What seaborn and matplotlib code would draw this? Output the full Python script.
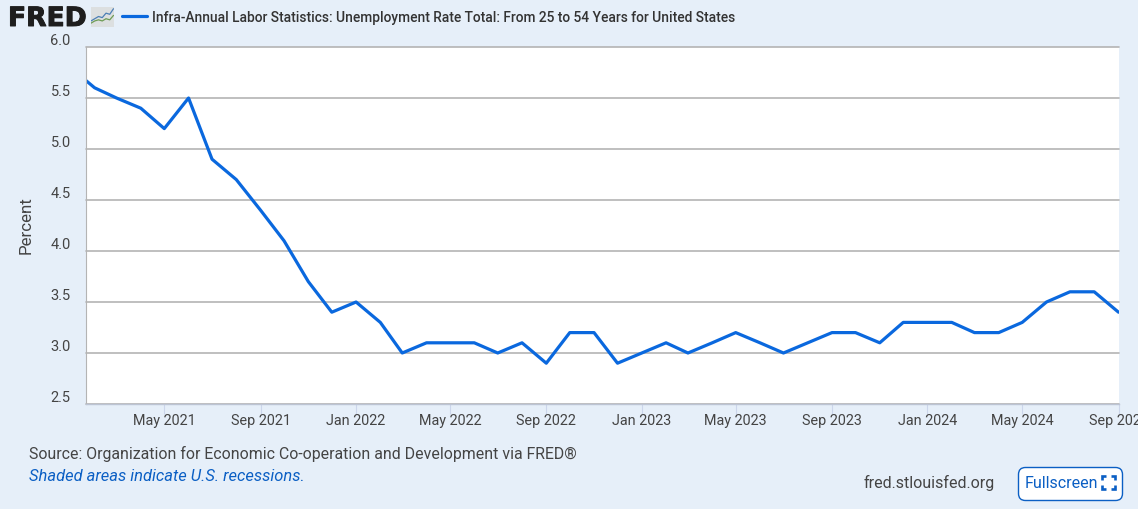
import pandas as pd
import matplotlib
matplotlib.use("Agg")
import matplotlib.pyplot as plt
import matplotlib.dates as mdates
import matplotlib.patheffects as pe
import seaborn as sns
from matplotlib.patches import FancyBboxPatch

months = pd.date_range("2021-01-01", "2024-09-01", freq="MS")
rate = [
    5.8, 5.6, 5.5, 5.4, 5.2, 5.5, 4.9, 4.7, 4.4, 4.1, 3.7, 3.4,
    3.5, 3.3, 3.0, 3.1, 3.1, 3.1, 3.0, 3.1, 2.9, 3.2, 3.2, 2.9,
    3.0, 3.1, 3.0, 3.1, 3.2, 3.1, 3.0, 3.1, 3.2, 3.2, 3.1, 3.3,
    3.3, 3.3, 3.2, 3.2, 3.3, 3.5, 3.6, 3.6, 3.4,
]
y_ticks = [2.5, 3.0, 3.5, 4.0, 4.5, 5.0, 5.5, 6.0]
x_ticks = pd.date_range("2021-05-01", "2024-09-01", freq="4MS")
series_name = "Infra-Annual Labor Statistics: Unemployment Rate Total: From 25 to 54 Years for United States"
icon_blue = [3, 5, 7, 6, 10, 9, 14]
icon_green = [1, 3, 4, 3, 5, 4, 8]

W, H = 1138, 510
BG = "#E6EFF9"
TEXT = "#444444"
BLUE = "#0B5FC4"
LINE = "#0A68DE"

sns.set_theme(style="white")
plt.rcParams["font.family"] = ["Roboto", "DejaVu Sans"]

fig = plt.figure(figsize=(W / 100, H / 100), dpi=100, facecolor=BG)
ax = fig.add_axes([86 / W, (H - 405) / H, 1032.5 / W, 357 / H], facecolor="white")

df = pd.DataFrame({"month": months, "rate": rate})
sns.lineplot(data=df, x="month", y="rate", color=LINE, linewidth=2.3,
             label=series_name, ax=ax)

ax.set_xlim(pd.Timestamp("2021-01-21"), pd.Timestamp("2024-09-01"))
ax.set_ylim(2.5, 6.0)

# grid sits on the y ticks, labels float just above each line
ax.set_yticks(y_ticks)
ax.set_yticklabels([f"{v:.1f}" for v in y_ticks], va="bottom")
ax.yaxis.grid(True, color="#B4B4B4", linewidth=1.2, clip_on=False)
ax.set_axisbelow(True)
ax.tick_params(axis="y", length=0, pad=11, labelsize=10.5, labelcolor=TEXT)

ax.set_xticks(x_ticks)
ax.xaxis.set_major_formatter(mdates.DateFormatter("%b %Y"))
ax.tick_params(axis="x", length=7, width=0.8, color="#CCD6EB", pad=-0.5,
               labelsize=10.4, labelcolor=TEXT, bottom=True)
for lab in ax.get_xticklabels():
    lab.set_clip_on(False)

ax.set_xlabel("")
ax.set_ylabel("Percent", fontsize=12.2, color=TEXT)
ax.yaxis.set_label_coords((34 - 86) / 1032.5, (405 - 225) / 357)

for side in ["top", "right"]:
    ax.spines[side].set_visible(False)
ax.spines["left"].set_color("#B4B4B4")
ax.spines["left"].set_linewidth(0.8)
ax.spines["bottom"].set_color("#BCC4D4")
ax.spines["bottom"].set_linewidth(1.0)

# legend line + series title in the header
leg = ax.legend(loc="center left", bbox_to_anchor=(122 / W, (H - 18) / H),
                bbox_transform=fig.transFigure, frameon=False, fontsize=9.9,
                handlelength=1.8, handletextpad=0.35, borderpad=0, borderaxespad=0)
for t in leg.get_texts():
    t.set_color("#333333")
    t.set_fontweight("medium")


def px_text(x, y, s, **kw):
    return fig.text(x / W, (H - y) / H, s, **kw)


# logo
logo = px_text(8, 27, "FRED", fontsize=19.1, fontweight="bold", family="DejaVu Sans", color="#1E1E1E",
               va="baseline", ha="left")
logo.set_path_effects([pe.withStroke(linewidth=0.7, foreground="#1E1E1E")])
icon = fig.add_axes([91 / W, (H - 27.5) / H, 22.5 / W, 20 / H], facecolor="#DCDFE0")
icon.plot(icon_blue, color="#4C7FB5", linewidth=0.9)
icon.plot(icon_green, color="#6E9C55", linewidth=0.9)
icon.set_xlim(0, 6)
icon.set_ylim(-2, 16)
icon.set_xticks([])
icon.set_yticks([])
for sp in icon.spines.values():
    sp.set_visible(False)

# footer
px_text(29, 454, "Source: Organization for Economic Co-operation and Development via FRED\u00ae",
        fontsize=11.47, color=TEXT, va="center", ha="left")
px_text(29, 476.5, "Shaded areas indicate U.S. recessions.", fontsize=11.85, style="italic",
        color=BLUE, va="center", ha="left")
px_text(864, 482.5, "fred.stlouisfed.org", fontsize=11.55, color=TEXT, va="center", ha="left")

# fullscreen button
overlay = fig.add_axes([0, 0, 1, 1], facecolor="none")
overlay.set_xlim(0, W)
overlay.set_ylim(H, 0)
overlay.axis("off")
overlay.add_patch(FancyBboxPatch((1018.5, 468.5), 104, 33, boxstyle="round,pad=0,rounding_size=7",
                                 facecolor="white", edgecolor=BLUE, linewidth=1.0))
overlay.text(1025, 484, "Fullscreen", fontsize=11.5, color=BLUE, va="center", ha="left")
for cx, cy, dx, dy in [(1102, 477, 1, 1), (1115, 477, -1, 1), (1102, 490, 1, -1), (1115, 490, -1, -1)]:
    overlay.plot([cx + 4 * dx, cx, cx], [cy, cy, cy + 4 * dy], color=BLUE, linewidth=1.9,
                 solid_capstyle="butt", solid_joinstyle="miter")

fig.savefig("out.png", dpi=100, facecolor=BG)
